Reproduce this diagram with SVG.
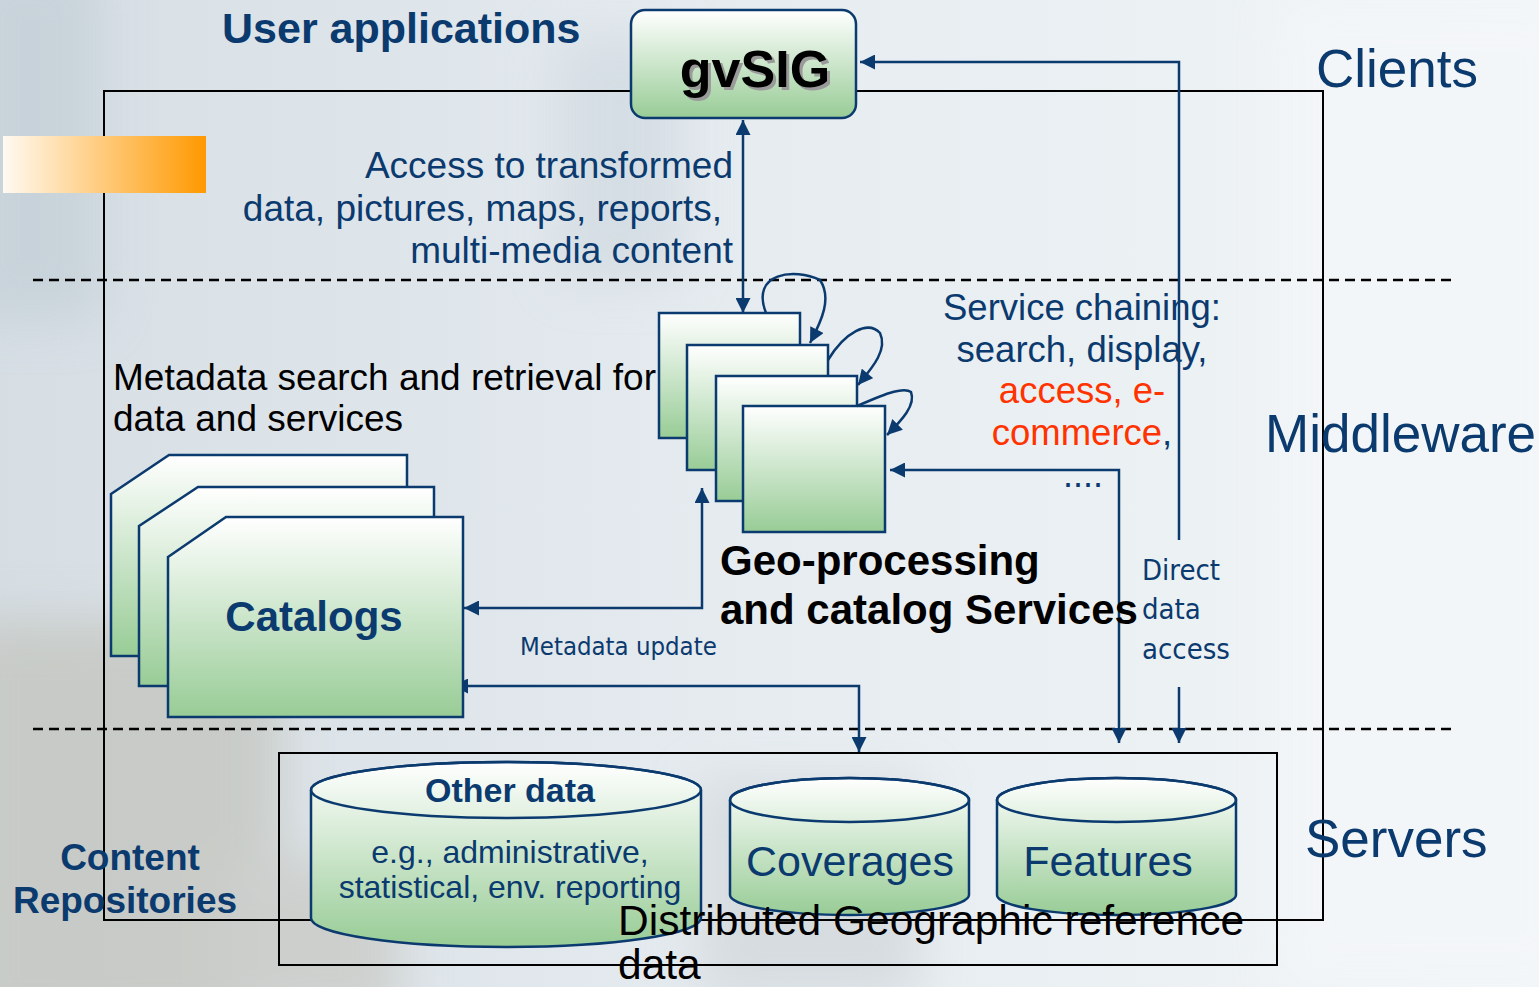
<svg xmlns="http://www.w3.org/2000/svg" width="1539" height="987" viewBox="0 0 1539 987">
<defs>
<linearGradient id="bg" x1="0" y1="0" x2="1" y2="0">
<stop offset="0" stop-color="#d6dee4"/>
<stop offset="0.5" stop-color="#e6ecf0"/>
<stop offset="1" stop-color="#f1f5f7"/>
</linearGradient>
<linearGradient id="green" x1="0" y1="0" x2="0" y2="1">
<stop offset="0" stop-color="#ffffff"/>
<stop offset="1" stop-color="#98cc96"/>
</linearGradient>
<linearGradient id="orange" x1="0" y1="0" x2="1" y2="0">
<stop offset="0" stop-color="#fffaf2"/>
<stop offset="1" stop-color="#ff9900"/>
</linearGradient>
<filter id="blur" x="-20%" y="-20%" width="140%" height="140%"><feGaussianBlur stdDeviation="25"/></filter>
<marker id="arr" viewBox="0 0 10 10" refX="10" refY="5" markerUnits="userSpaceOnUse" markerWidth="16" markerHeight="15" orient="auto-start-reverse">
<path d="M0,0 L10,5 L0,10 z" fill="#0b3a6f"/>
</marker>
<style>
.conn{fill:none;stroke:#0b3a6f;stroke-width:2.5}
.node{fill:url(#green);stroke:#0b3a6f;stroke-width:2.5}
.dash{stroke:#000;stroke-width:2.5;stroke-dasharray:10 6;fill:none}
.frame{fill:none;stroke:#000;stroke-width:2}
.t{font-family:"Liberation Sans",Arial,sans-serif}
.blue{fill:#0b3a6f}
.b{font-weight:bold}
.v{font-family:"DejaVu Sans Condensed","DejaVu Sans",sans-serif;fill:#0b3a6f}
</style>
</defs>
<rect width="1539" height="987" fill="url(#bg)"/>
<g filter="url(#blur)" opacity="0.8">
<rect x="-40" y="620" width="320" height="420" fill="#c4c6c0"/>
<rect x="-40" y="-40" width="140" height="360" fill="#c5d0d8"/>
<rect x="220" y="860" width="180" height="160" fill="#c9cbc6"/>
<rect x="560" y="40" width="120" height="240" fill="#d2dbe2"/>
<rect x="700" y="780" width="220" height="220" fill="#d2d8dc"/>
<rect x="1280" y="0" width="300" height="987" fill="#f4f7f9"/>
</g>

<g id="frames">
<rect class="frame" x="104" y="91" width="1219" height="829"/>
<rect class="frame" x="279" y="753" width="998" height="212"/>
<line class="dash" x1="33" y1="280" x2="1455" y2="280"/>
<line class="dash" x1="33" y1="729" x2="1455" y2="729"/>
</g>

<g id="orange-bar"><rect x="3" y="136" width="203" height="57" fill="url(#orange)"/></g>

<g id="connectors">
<path class="conn" d="M743,313 L743,120" marker-start="url(#arr)" marker-end="url(#arr)"/>
<path class="conn" d="M1179,540 L1179,62 L860,62" marker-end="url(#arr)"/>
<path class="conn" d="M1179,687 L1179,743" marker-end="url(#arr)"/>
<path class="conn" d="M890,470 L1119,470 L1119,743" marker-start="url(#arr)" marker-end="url(#arr)"/>
<path class="conn" d="M702,488 L702,608 L464,608" marker-start="url(#arr)" marker-end="url(#arr)"/>
<path class="conn" d="M453,686 L859,686 L859,752" marker-start="url(#arr)" marker-end="url(#arr)"/>
</g>

<g id="gvsig">
<rect class="node" x="631" y="10" width="225" height="108" rx="14"/>
<text class="t b" x="758" y="90" font-size="52" text-anchor="middle" fill="#9a9a9a">gvSIG</text>
<text class="t b" x="755" y="87" font-size="52" text-anchor="middle" fill="#000">gvSIG</text>
</g>

<g id="geo-services">
<rect class="node" x="659" y="313" width="141" height="125"/>
<rect class="node" x="687" y="345" width="141" height="125"/>
<rect class="node" x="716" y="376" width="141" height="125"/>
<rect class="node" x="743" y="406" width="142" height="126"/>
</g>

<g id="loops">
<path class="conn" d="M766,313 C750,272 795,268 820,280 C832,298 822,320 810,343" marker-end="url(#arr)"/>
<path class="conn" d="M828,360 C845,332 868,320 880,333 C888,350 872,368 858,385" marker-end="url(#arr)"/>
<path class="conn" d="M857,406 C880,396 903,386 911,392 C916,405 902,420 887,435" marker-end="url(#arr)"/>
</g>

<g id="catalogs">
<path class="node" d="M111,494 L169,455 L407,455 L407,656 L111,656 Z"/>
<path class="node" d="M139,526 L198,487 L434,487 L434,686 L139,686 Z"/>
<path class="node" d="M168,557 L226,517 L463,517 L463,717 L168,717 Z"/>
<text class="t b blue" x="314" y="631" font-size="42" text-anchor="middle">Catalogs</text>
</g>

<g id="other-data">
<path class="node" d="M311,790 L311,918 A195,29 0 0 0 701,918 L701,790 A195,28 0 0 0 311,790 Z"/>
<ellipse cx="506" cy="790" rx="195" ry="28" fill="none" stroke="#0b3a6f" stroke-width="2.5"/>
<text class="t b blue" x="510" y="802" font-size="34" text-anchor="middle">Other data</text>
<text class="t blue" x="510" y="863" font-size="32" text-anchor="middle">e.g., administrative,</text>
<text class="t blue" x="510" y="898" font-size="32" text-anchor="middle">statistical, env. reporting</text>
</g>

<g id="coverages">
<path class="node" d="M730,800 L730,895 A119.5,20 0 0 0 969,895 L969,800 A119.5,22 0 0 0 730,800 Z"/>
<ellipse cx="849.5" cy="800" rx="119.5" ry="22" fill="none" stroke="#0b3a6f" stroke-width="2.5"/>
<text class="t blue" x="850" y="876" font-size="43" text-anchor="middle">Coverages</text>
</g>

<g id="features">
<path class="node" d="M997,800 L997,895 A119.5,20 0 0 0 1236,895 L1236,800 A119.5,22 0 0 0 997,800 Z"/>
<ellipse cx="1116.5" cy="800" rx="119.5" ry="22" fill="none" stroke="#0b3a6f" stroke-width="2.5"/>
<text class="t blue" x="1108" y="876" font-size="43" text-anchor="middle">Features</text>
</g>

<g id="labels">
<text class="t b blue" x="222" y="43" font-size="43">User applications</text>
<text class="t blue" x="1316" y="87" font-size="53">Clients</text>
<text class="t blue" x="1265" y="452" font-size="53">Middleware</text>
<text class="t blue" x="1305" y="857" font-size="53">Servers</text>
<text class="t blue" font-size="37" text-anchor="end"><tspan x="733" y="178">Access to transformed</tspan><tspan x="722" y="221">data, pictures, maps, reports,</tspan><tspan x="733" y="263">multi-media content</tspan></text>
<text class="t" font-size="37" fill="#000"><tspan x="113" y="390">Metadata search and retrieval for</tspan><tspan x="113" y="431">data and services</tspan></text>
<text class="t" font-size="36.5" text-anchor="middle"><tspan class="blue" x="1082" y="320">Service chaining:</tspan><tspan class="blue" x="1082" y="362">search, display,</tspan><tspan fill="#ff3300" x="1082" y="403">access, e-</tspan><tspan x="1082" y="445"><tspan fill="#ff3300">commerce</tspan><tspan class="blue">,</tspan></tspan></text>
<text class="t blue" x="1083" y="487" font-size="36" text-anchor="middle">....</text>
<text class="t b" font-size="42" fill="#000"><tspan x="720" y="575">Geo-processing</tspan><tspan x="720" y="624">and catalog Services</tspan></text>
<text class="v" x="520" y="655" font-size="25.5">Metadata update</text>
<text class="v" font-size="29"><tspan x="1142" y="580">Direct</tspan><tspan x="1142" y="619">data</tspan><tspan x="1142" y="659">access</tspan></text>
<text class="t b blue" font-size="37" text-anchor="middle"><tspan x="130" y="870">Content</tspan><tspan x="125" y="913">Repositories</tspan></text>
<text class="t" font-size="42.5" fill="#000"><tspan x="618" y="935">Distributed Geographic reference</tspan><tspan x="618" y="979">data</tspan></text>
</g>
</svg>
